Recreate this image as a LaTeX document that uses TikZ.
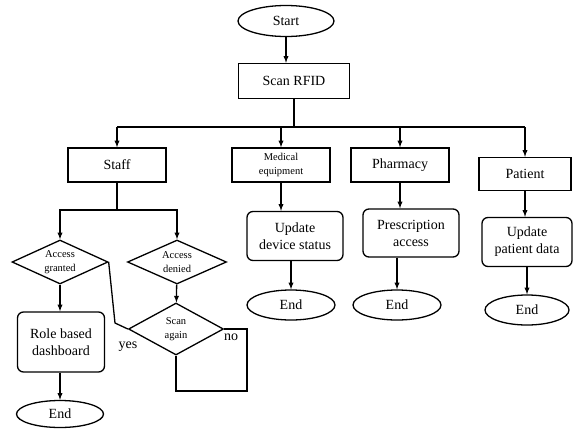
\documentclass[tikz,border=0pt]{standalone}
\usepackage{fontspec}
\setmainfont{Liberation Serif}
\usetikzlibrary{shapes.geometric}
\newcommand{\flowfont}{\fontsize{14}{17}\selectfont}
\newcommand{\smallflowfont}{\fontsize{10.5}{14}\selectfont}
\tikzset{
  % Node styles for the flowchart: terminal, plain box, rounded box and test
  term node/.style={ellipse,draw,inner sep=0,minimum width=88pt,minimum height=30pt,font=\flowfont},
  box node/.style={rectangle,draw,minimum width=98pt,minimum height=34pt,font=\flowfont,align=center},
  round node/.style={box node,rounded corners=6pt,minimum width=96pt,minimum height=49pt},
  test node/.style={diamond,draw,inner sep=0,aspect=2,minimum width=96pt,minimum height=44pt,font=\smallflowfont,align=center}
}

\begin{document}
\begin{tikzpicture}[x=1pt,y=-1pt,>=latex,line width=1.3pt]
  \useasboundingbox (0,0) rectangle (573,429);
  % Top of the chart
  \node(start)[term node,minimum width=96pt,minimum height=31pt] at (286,21){Start};
  \node(scan)[box node,minimum width=111pt,minimum height=35pt] at (294,81){Scan RFID};
  % The four kinds of tag
  \node(staff)[box node] at (117,165){Staff};
  \node(med)[box node,font=\smallflowfont] at (281,165){Medical\\equipment};
  \node(pharm)[box node] at (400,165){Pharmacy};
  \node(patient)[box node,minimum width=92pt,minimum height=33pt] at (525,174){Patient};
  % Staff branch
  \node(grant)[test node] at (60,262){Access\\granted};
  \node(deny)[test node,minimum width=99pt] at (177,262){Access\\denied};
  \node(again)[test node,minimum width=95pt,minimum height=52pt] at (176,329){Scan\\again};
  \node(dash)[round node,minimum width=87pt,minimum height=60pt] at (61,342){Role based\\dashboard};
  \node(end1)[term node,minimum width=87pt,minimum height=27pt] at (60,414){End};
  % Other branches
  \node(device)[round node] at (295,236){Update\\device status};
  \node(end2)[term node] at (291,305){End};
  \node(presc)[round node,minimum height=48pt] at (411,233){Prescription\\access};
  \node(end3)[term node] at (397,305){End};
  \node(pdata)[round node,minimum width=90pt] at (527,242){Update\\patient data};
  \node(end4)[term node,minimum width=84pt] at (527,310){End};
  % bus under Scan RFID
  \coordinate (busL) at (117,127);
  \coordinate (busR) at (525,127);
  \coordinate (split) at (117,210);
  \coordinate (yesbend) at (115,323);
  \coordinate (loop) at (247,391);
  \draw[->] (start) -- (start |- scan.north);
  \draw (scan) -- (scan |- busL);
  \draw (busL) -- (busR);
  \draw[->] (busL) -- (staff);
  \draw[->] (med |- busL) -- (med);
  \draw[->] (pharm |- busL) -- (pharm);
  \draw[->] (busR) -- (patient);
  % staff tests
  \draw (staff) -- (split);
  \draw[->] (split) -| (grant);
  \draw[->] (split) -| (deny);
  \draw[->] (deny) -- (again);
  \draw[->] (grant) -- (grant |- dash.north);
  \draw[->] (end1 |- dash.south) -- (end1);
  \draw (grant.east) -- (yesbend) -- (again.west);
  \draw (again.east) -| (loop) -| (again.south);
  \node(yes)[font=\flowfont] at (128,347){yes};
  \node(no)[font=\flowfont] at (231,337){no};
  % arrows down the other columns
  \draw[->] (med) -- (med |- device.north);
  \draw[->] (end2 |- device.south) -- (end2);
  \draw[->] (pharm) -- (pharm |- presc.north);
  \draw[->] (end3 |- presc.south) -- (end3);
  \draw[->] (patient) -- (patient |- pdata.north);
  \draw[->] (pdata) -- (end4);
\end{tikzpicture}
\end{document}
